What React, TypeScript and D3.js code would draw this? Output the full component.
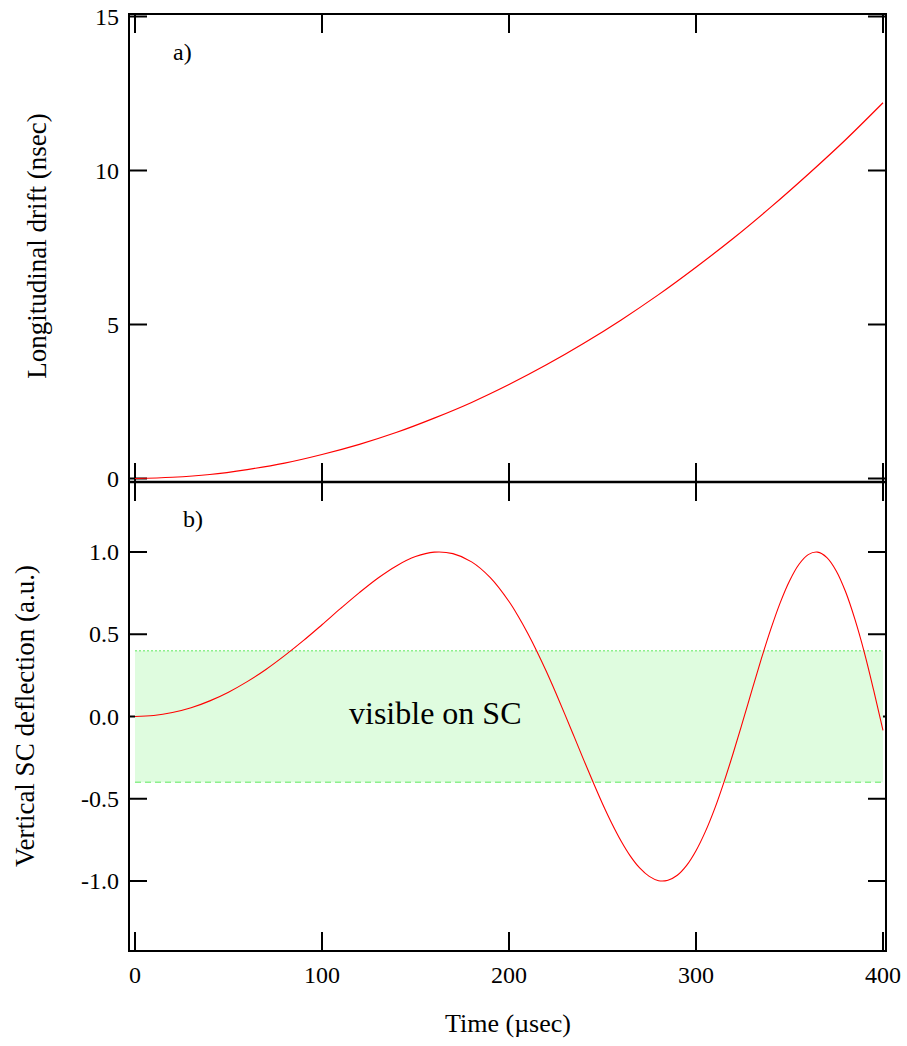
import React from 'react';
import * as d3 from 'd3';

const timeTicks = [0, 100, 200, 300, 400];
const driftTicks = [0, 5, 10, 15];
const deflTicks = [-1, -0.5, 0, 0.5, 1];

const driftTime = [0, 20, 40, 60, 80, 100, 120, 140, 160, 180, 200, 220, 240, 260, 280, 300, 320, 340, 360, 380, 400];
const driftValues = [0, 0.04, 0.13, 0.29, 0.5, 0.78, 1.11, 1.5, 1.96, 2.47, 3.05, 3.69, 4.39, 5.15, 5.97, 6.86, 7.8, 8.81, 9.88, 11.0, 12.2];

const deflTime = [0, 10, 20, 30, 40, 50, 60, 70, 80, 90, 100, 110, 120, 130, 140, 150, 160, 170, 180, 190, 200,
  205, 210, 215, 220, 225, 230, 235, 240, 245, 250, 255, 260, 265, 270, 275, 280, 285, 290, 295, 300,
  305, 310, 315, 320, 325, 330, 335, 340, 345, 350, 355, 360, 365, 370, 375, 380, 385, 390, 395, 400];
const deflValues = [0, 0.006, 0.024, 0.053, 0.095, 0.148, 0.212, 0.286, 0.37, 0.461, 0.558, 0.657, 0.753, 0.842, 0.917, 0.972, 0.999, 0.99, 0.94, 0.844, 0.699,
  0.608, 0.506, 0.394, 0.273, 0.144, 0.01, -0.127, -0.265, -0.4, -0.53, -0.65, -0.758, -0.85, -0.922, -0.972, -0.998, -0.995, -0.965, -0.905, -0.816,
  -0.7, -0.56, -0.397, -0.219, -0.03, 0.163, 0.353, 0.531, 0.691, 0.824, 0.924, 0.984, 0.999, 0.966, 0.885, 0.758, 0.59, 0.39, 0.16, -0.085];

const bandLimits = [-0.4, 0.4];
const bandLabel = 'visible on SC';

const FONT = '"Liberation Serif", "Times New Roman", serif';

export default function App() {
  const W = 907, H = 1046;
  const left = 129, right = 886, top = 14, mid = 482, bottom = 951;
  const tickLen = 18;

  const x = d3.scaleLinear().domain([0, 400]).range([135, 883]);
  const yTop = d3.scaleLinear().domain([0, 15]).range([478.5, 16.5]);
  const yBot = d3.scaleLinear().domain([-1, 1]).range([881, 552]);

  const topLine = d3.line<number>()
    .x((_, i) => x(driftTime[i]))
    .y((d) => yTop(d))
    .curve(d3.curveCatmullRom.alpha(0.5));
  const botLine = d3.line<number>()
    .x((_, i) => x(deflTime[i]))
    .y((d) => yBot(d))
    .curve(d3.curveCatmullRom.alpha(0.5));

  const tickStroke = { stroke: '#000', strokeWidth: 2 };

  return (
    <svg width={W} height={H} style={{ position: 'absolute', left: 0, top: 0, background: '#fff' }}
      fontFamily={FONT}>
      <rect x={0} y={0} width={W} height={H} fill="#fff" />
      {/* Top panel ticks */}
      {driftTicks.map((v) => (
        <g key={'dt' + v}>
          <line x1={left} x2={left + tickLen} y1={yTop(v)} y2={yTop(v)} {...tickStroke} />
          <line x1={right - tickLen} x2={right} y1={yTop(v)} y2={yTop(v)} {...tickStroke} />
        </g>
      ))}
      {timeTicks.map((t) => (
        <g key={'tt' + t}>
          <line x1={x(t)} x2={x(t)} y1={top} y2={top + tickLen + 1} {...tickStroke} />
          <line x1={x(t)} x2={x(t)} y1={mid - tickLen - 1} y2={mid} {...tickStroke} />
          <line x1={x(t)} x2={x(t)} y1={mid} y2={mid + tickLen + 1} {...tickStroke} />
          <line x1={x(t)} x2={x(t)} y1={bottom - tickLen - 1} y2={bottom} {...tickStroke} />
        </g>
      ))}
      {deflTicks.map((v) => (
        <g key={'vt' + v}>
          <line x1={left} x2={left + tickLen} y1={yBot(v)} y2={yBot(v)} {...tickStroke} />
          <line x1={right - tickLen} x2={right} y1={yBot(v)} y2={yBot(v)} {...tickStroke} />
        </g>
      ))}

      {/* Band */}
      <rect x={x(0)} y={yBot(bandLimits[1])} width={x(400) - x(0)}
        height={yBot(bandLimits[0]) - yBot(bandLimits[1])} fill="#dffcdf" />
      <line x1={x(0)} x2={x(400)} y1={yBot(bandLimits[1])} y2={yBot(bandLimits[1])}
        stroke="#8ef08e" strokeWidth={1.5} strokeDasharray="2,2" />
      <line x1={x(0)} x2={x(400)} y1={yBot(bandLimits[0])} y2={yBot(bandLimits[0])}
        stroke="#8ef08e" strokeWidth={1.5} strokeDasharray="6,4" />
      <text x={349} y={724} fontSize={32} fill="#000">{bandLabel}</text>

      {/* Curves */}
      <path d={topLine(driftValues) || ''} fill="none" stroke="#ff0000" strokeWidth={1.2} />
      <path d={botLine(deflValues) || ''} fill="none" stroke="#ff0000" strokeWidth={1.1} />

      {/* Frame */}
      <rect x={left} y={top} width={right - left} height={bottom - top} fill="none" stroke="#000" strokeWidth={2} />
      <line x1={left} x2={right} y1={mid} y2={mid} stroke="#000" strokeWidth={2.5} />

      {/* Tick labels */}
      {driftTicks.map((v) => (
        <text key={'dl' + v} x={119} y={yTop(v) + 8} fontSize={24} textAnchor="end">{String(v)}</text>
      ))}
      {deflTicks.map((v) => (
        <text key={'vl' + v} x={119} y={yBot(v) + 8} fontSize={24} textAnchor="end">{v.toFixed(1)}</text>
      ))}
      {timeTicks.map((t) => (
        <text key={'tl' + t} x={x(t)} y={983} fontSize={24} textAnchor="middle">{String(t)}</text>
      ))}

      {/* Panel labels */}
      <text x={173} y={60} fontSize={24}>a)</text>
      <text x={183} y={527} fontSize={24}>b)</text>

      {/* Axis titles */}
      <text transform={`translate(46,${246}) rotate(-90)`} fontSize={27} textAnchor="middle">Longitudinal drift (nsec)</text>
      <text transform={`translate(34,${716}) rotate(-90)`} fontSize={27} textAnchor="middle">Vertical SC deflection (a.u.)</text>
      <text x={508} y={1032} fontSize={26} textAnchor="middle">Time (µsec)</text>
    </svg>
  );
}
